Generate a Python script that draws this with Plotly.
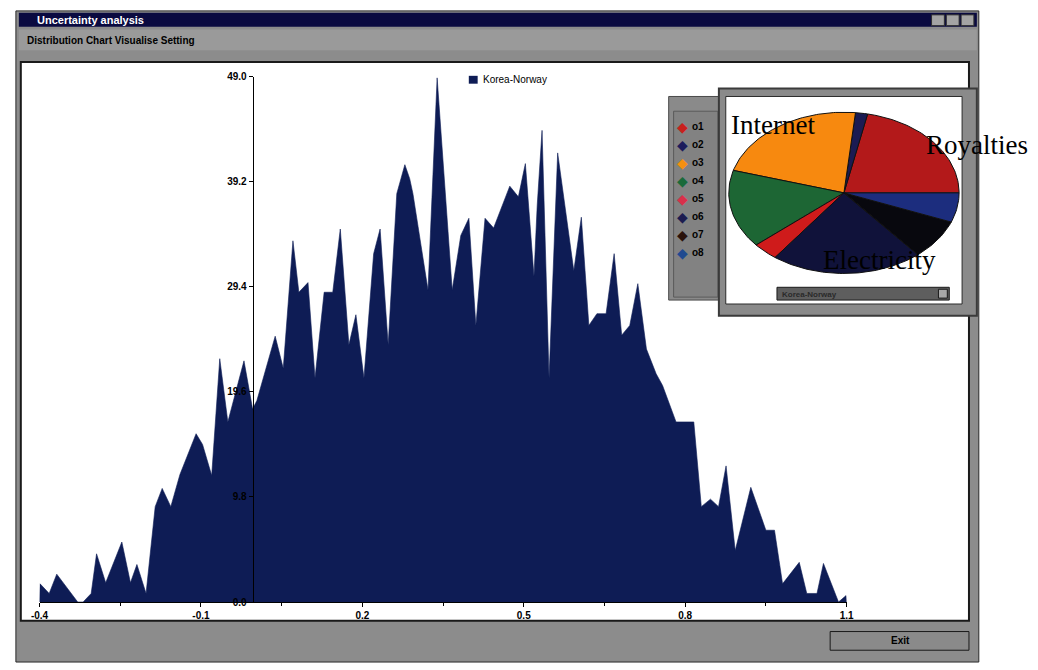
import numpy as np
import plotly.graph_objects as go

W, H = 1038, 670

# Outline of the simulated outcome distribution (Korea-Norway)
bin_x = [-0.400, -0.399, -0.382, -0.368, -0.329, -0.319, -0.304, -0.294, -0.277, -0.247,
         -0.231, -0.219, -0.202, -0.185, -0.172, -0.156, -0.139, -0.109, -0.097, -0.080,
         -0.065, -0.050, -0.020, -0.004, 0.004, 0.038, 0.053, 0.071, 0.082, 0.099,
         0.112, 0.129, 0.145, 0.159, 0.175, 0.188, 0.203, 0.221, 0.233, 0.248,
         0.264, 0.279, 0.288, 0.294, 0.322, 0.339, 0.367, 0.383, 0.398, 0.411,
         0.428, 0.444, 0.474, 0.490, 0.503, 0.519, 0.525, 0.534, 0.547, 0.563,
         0.593, 0.607, 0.621, 0.636, 0.653, 0.668, 0.682, 0.697, 0.712, 0.728,
         0.746, 0.758, 0.783, 0.816, 0.830, 0.847, 0.862, 0.876, 0.893, 0.922,
         0.950, 0.966, 0.981, 1.012, 1.026, 1.045, 1.057, 1.085, 1.099, 1.100]
counts = [0.0, 1.7, 0.8, 2.6, 0.0, 0.0, 0.8, 4.5, 1.8, 5.6,
          1.8, 3.5, 0.8, 8.9, 10.6, 8.9, 11.9, 15.7, 14.7, 11.8,
          22.7, 16.8, 22.5, 18.0, 18.8, 24.8, 21.8, 33.7, 28.9, 29.8,
          20.9, 28.9, 28.9, 34.8, 24.0, 26.8, 20.9, 32.5, 34.8, 24.0,
          38.1, 40.8, 39.5, 38.1, 29.1, 48.9, 29.1, 34.2, 35.8, 25.8,
          35.8, 34.9, 38.8, 37.8, 40.9, 30.4, 37.0, 44.0, 20.9, 41.9,
          30.9, 35.9, 25.8, 26.9, 26.9, 32.5, 24.9, 25.8, 29.7, 23.6,
          21.3, 20.2, 16.8, 16.8, 8.9, 9.6, 8.9, 12.7, 4.8, 10.7,
          6.7, 6.7, 1.7, 3.7, 0.8, 0.8, 3.6, 0.0, 0.6, 0.0]

x_tickvals = [-0.4, -0.1, 0.2, 0.5, 0.8, 1.1]
x_ticktext = ["-0.4", "-0.1", "0.2", "0.5", "0.8", "1.1"]
x_minor = [-0.25, 0.05, 0.35, 0.65, 0.95]
y_tickvals = [0.0, 9.8, 19.6, 29.4, 39.2, 49.0]
y_ticktext = ["0.0", "9.8", "19.6", "29.4", "39.2", "49.0"]
series_name = "Korea-Norway"

# Cost-share pie for the selected pair
pie_labels = ["o1", "o2", "o3", "o4", "o5", "o6", "o7", "o8"]
pie_shares = [21.7, 1.7, 22.1, 15.7, 3.6, 21.3, 8.0, 5.9]
pie_colors = ["#b3191a", "#1b1b52", "#f7890f", "#1d6634", "#cf1b1b", "#10123a", "#08080e", "#1c2d7e"]
legend_colors = ["#c8201c", "#1c1c5c", "#f59010", "#1a6a3a", "#d8304a", "#1c1c50", "#2a120c", "#204a90"]
pie_names = [("Internet", 731, 122, "left"), ("Royalties", 929, 142, "left"),
             ("Electricity", 944, 259, "right")]

window_title = "Uncertainty analysis"
menu_items = ["Distribution", "Chart", "Visualise", "Setting"]
dropdown_text = "Korea-Norway"
exit_text = "Exit"

NAVY = "#0e1c55"
GRAY = "#8c8c8c"


def fx(px):
    return px / W


def fy(py):
    return 1 - py / H


def rect(x0, y0, x1, y1, fill, line="rgba(0,0,0,0)", lw=1, layer="below"):
    return dict(type="rect", xref="paper", yref="paper",
                x0=fx(x0), x1=fx(x1), y0=fy(y1), y1=fy(y0),
                fillcolor=fill, line=dict(color=line, width=lw), layer=layer)


def label(text, px, py, size=10, color="black", anchor="left", family="Liberation Sans"):
    return dict(text=text, x=fx(px), y=fy(py), xref="paper", yref="paper",
                showarrow=False, xanchor=anchor, yanchor="middle",
                font=dict(family=family, size=size, color=color))


fig = go.Figure()

fig.add_trace(go.Scatter(
    x=bin_x, y=counts, mode="lines", fill="tozeroy",
    line=dict(color=NAVY, width=0.6), fillcolor=NAVY,
    name=series_name, showlegend=False, hoverinfo="skip",
    xaxis="x", yaxis="y"))

# Pie slices drawn as wedges on a stretched axis pair so the pie renders as an ellipse
total = sum(pie_shares)
start = 0.0
for lab, share, col in zip(pie_labels, pie_shares, pie_colors):
    span = 2 * np.pi * share / total
    th = np.linspace(start, start + span, max(int(share * 3), 4))
    xs = np.concatenate([[0], np.cos(th), [0]])
    ys = np.concatenate([[0], np.sin(th), [0]])
    fig.add_trace(go.Scatter(
        x=xs, y=ys, mode="lines", fill="toself", fillcolor=col,
        line=dict(color="#111111", width=1), name=lab, showlegend=False,
        hoverinfo="skip", xaxis="x2", yaxis="y2"))
    start += span

shapes = [
    # application window
    rect(7, 6, 985, 668, GRAY, "#2a2a2a", 1),
    rect(10, 8, 983, 22, "#0a0a40"),
    rect(937, 10, 950, 21, "#a4a4a4", "#303030"),
    rect(952, 10, 965, 21, "#a4a4a4", "#303030"),
    rect(967, 10, 980, 21, "#a4a4a4", "#303030"),
    rect(10, 25, 983, 46, "#9a9a9a"),
    rect(12, 58, 975, 626, "white", "#1a1a1a", 2),
    rect(834, 637, 975, 656, "#8a8a8a", "#1a1a1a", 1),
    # pie legend panel
    rect(670, 93, 723, 300, "#8a8a8a", "#4a4a4a", 1),
    rect(675, 108, 720, 297, "#828282", "#5a5a5a", 1),
    # pie panel
    rect(721, 85, 983, 316, "#8a8a8a", "#3a3a3a", 2),
    rect(728, 93, 968, 304, "white", "#2a2a2a", 1),
    rect(780, 287, 955, 300, "#5e5e5e", "#1a1a1a", 1),
    rect(944, 289, 953, 298, "#a8a8a8", "#1a1a1a", 1),
    # legend swatch
    rect(467, 72, 476, 80, NAVY, layer="above"),
]

annotations = [
    label("<b>" + window_title + "</b>", 26, 15, 11, "white"),
    label("<b>" + " ".join(menu_items) + "</b>", 16, 36, 10),
    label("<b>" + exit_text + "</b>", 905, 646, 10, anchor="center"),
    label(series_name, 479, 76, 10),
    label("<b>" + dropdown_text + "</b>", 783, 294, 8, "#2a2a2a"),
]
for i, (lab, col) in enumerate(zip(pie_labels, legend_colors)):
    yrow = 124 + i * 18.3
    annotations.append(label("◆", 676, yrow, 14, col))
    annotations.append(label("<b>" + lab + "</b>", 692, yrow, 10))
for name, px, py, anc in pie_names:
    annotations.append(label(name, px, py, 27, "black", anc, "Liberation Serif"))

axis_font = dict(family="Liberation Sans", size=10, color="black")

fig.update_layout(
    width=W, height=H, margin=dict(l=0, r=0, t=0, b=0),
    paper_bgcolor="white", plot_bgcolor="rgba(0,0,0,0)",
    showlegend=False, shapes=shapes, annotations=annotations,
    xaxis=dict(domain=[fx(31), fx(850.7)], range=[-0.4, 1.1], anchor="y",
               showgrid=False, zeroline=False, showline=True, linecolor="black", linewidth=1,
               ticks="outside", ticklen=4, tickcolor="black",
               tickvals=x_tickvals, ticktext=["<b>" + t + "</b>" for t in x_ticktext],
               tickfont=axis_font,
               minor=dict(tickvals=x_minor, ticks="outside", ticklen=3, tickcolor="black")),
    yaxis=dict(domain=[fy(607), fy(73)], range=[0, 49], anchor="free", position=fx(247.5),
               showgrid=False, zeroline=False, showline=True, linecolor="black", linewidth=1,
               ticks="outside", ticklen=4, tickcolor="black",
               tickvals=y_tickvals, ticktext=["<b>" + t + "</b>" for t in y_ticktext],
               tickfont=axis_font),
    xaxis2=dict(domain=[fx(848 - 119.3), fx(848 + 119.3)], range=[-1.02, 1.02],
                anchor="y2", visible=False, fixedrange=True),
    yaxis2=dict(domain=[fy(191 + 83.6), fy(191 - 83.6)], range=[-1.02, 1.02],
                anchor="x2", visible=False, fixedrange=True),
)

fig.write_html("out.html")
